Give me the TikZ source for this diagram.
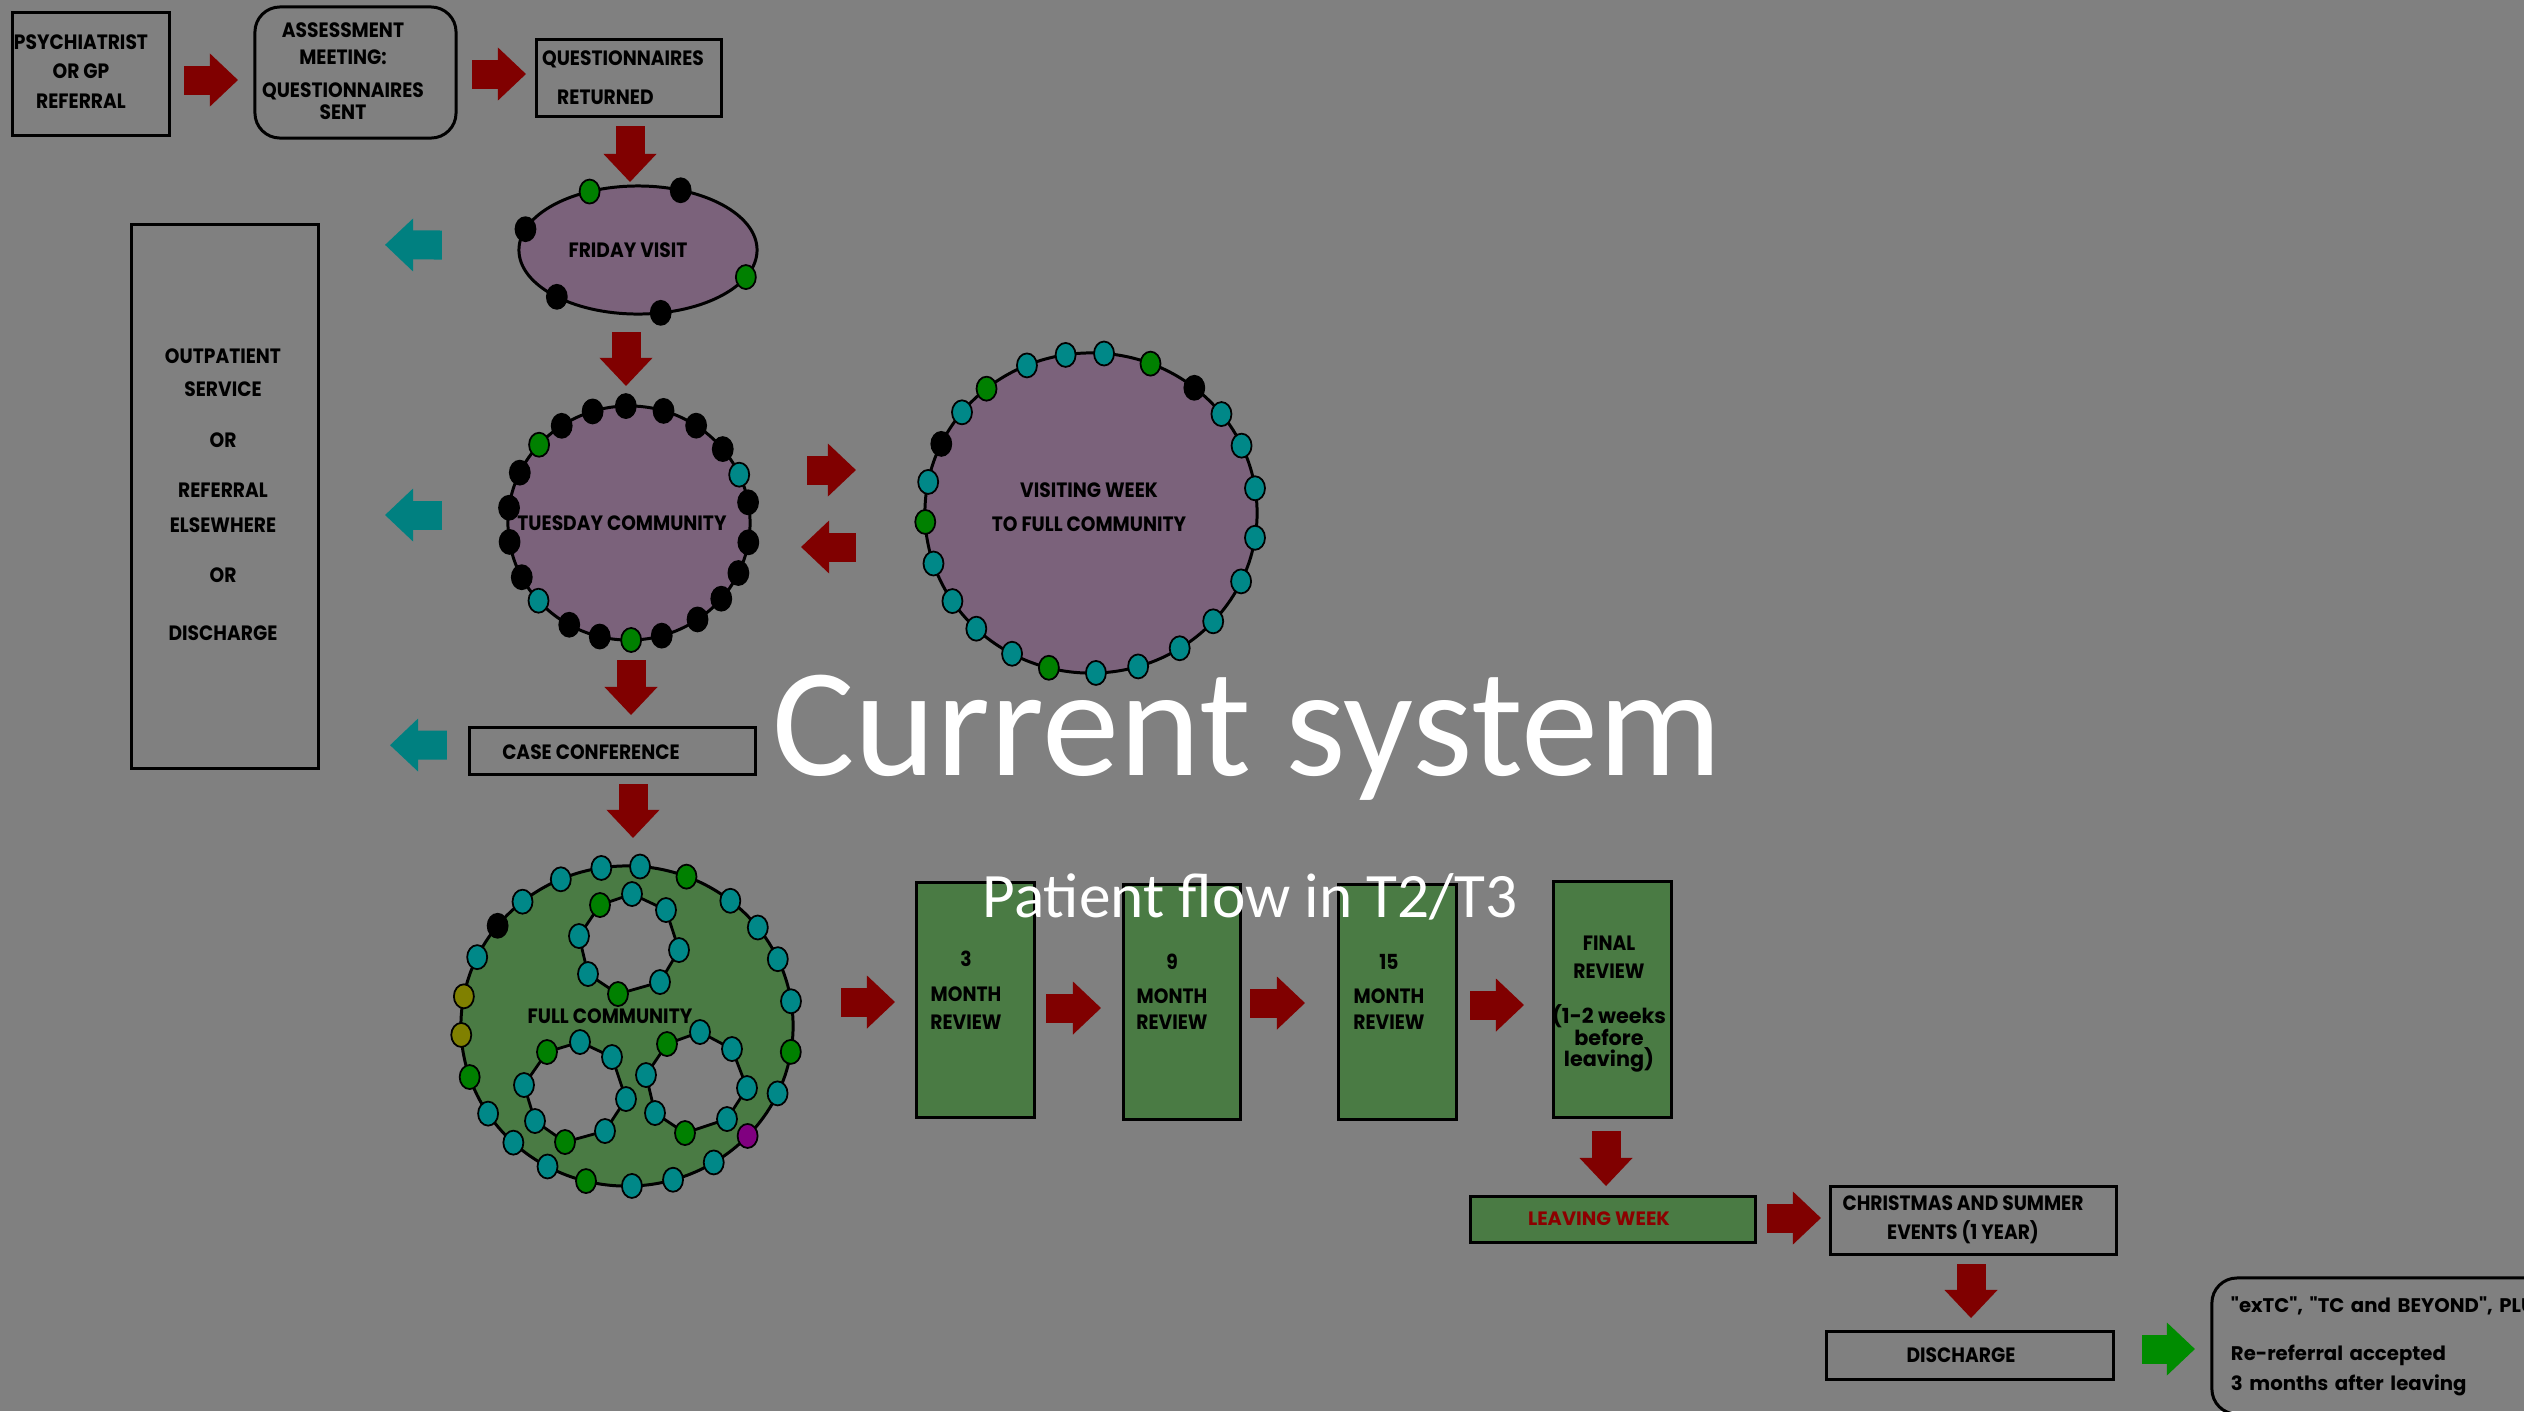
\documentclass[tikz,border=0pt]{standalone}
\usepackage{fontspec}
\usetikzlibrary{shapes.geometric,arrows.meta,calc}
\setmainfont{Carlito}
\newfontfamily\cgn[FakeStretch=0.9]{Poppins}
\newfontfamily\cgw{Poppins}
\definecolor{bg}{RGB}{128,128,128}
\definecolor{purp}{RGB}{123,98,123}
\definecolor{grf}{RGB}{74,123,68}
\definecolor{dg}{RGB}{0,128,0}
\definecolor{tl}{RGB}{0,136,136}
\definecolor{bk}{RGB}{0,0,0}
\definecolor{yl}{RGB}{128,128,0}
\definecolor{mg}{RGB}{128,0,128}
\definecolor{arred}{RGB}{128,0,0}
\definecolor{arteal}{RGB}{0,128,128}
\definecolor{argreen}{RGB}{0,140,0}
\definecolor{lvred}{RGB}{140,0,0}
\newcommand\capfont[1]{\cgn\bfseries\fontsize{5.9}{#1}\selectfont}
\newcommand\rdot[6]{\filldraw[dotst,fill=#6] ({#1+#3*cos(#5)},{#2-#4*sin(#5)}) ellipse [x radius=0.1cm, y radius=0.12cm];}
\tikzset{
 bxbase/.style={draw=black, line width=0.85pt, inner sep=0pt, outer sep=0pt},
 box/.style={bxbase, rectangle},
 rbox/.style={bxbase, rectangle, rounded corners=0.25cm},
 oval/.style={bxbase, ellipse},
 lbl/.style={align=center, text=black, inner sep=0pt},
 blk/.style={line width=0.29cm, -{Triangle[width=0.53cm,length=0.28cm,line width=0pt]}},
 redarr/.style={blk, draw=arred},
 tealarr/.style={blk, draw=arteal},
 greenarr/.style={blk, draw=argreen},
 dotst/.style={draw=black, line width=0.5pt},
 ring/.style={fill=bg, draw=black, line width=0.8pt},
}
\begin{document}
\begin{tikzpicture}[x=0.01cm,y=-0.01cm]
\useasboundingbox (0,0) rectangle (2524,1411);
\clip (0,0) rectangle (2524,1411);
\fill[bg] (0,0) rectangle (2524,1411);

% ---------- boxes and shapes ----------
\node[box, minimum width=1.56cm, minimum height=1.22cm,
  label={[lbl,name=psycht,font=\capfont{8.5},xshift=-0.1cm,yshift=0.025cm]center:{PSYCHIATRIST\\OR GP\\REFERRAL}}] (psych) at (91,74) {};
\node[rbox, minimum width=2.01cm, minimum height=1.31cm,
  label={[lbl,name=assesst,font=\capfont{6.3},xshift=-0.125cm,yshift=0.015cm]center:{ASSESSMENT\\[1.4pt]MEETING:\\[3.1pt]QUESTIONNAIRES\\SENT}}] (assess) at (355.5,72.5) {};
\node[box, minimum width=1.84cm, minimum height=0.76cm,
  label={[lbl,name=questt,font=\capfont{11.1},xshift=-0.06cm,yshift=0.005cm]center:{QUESTIONNAIRES\\RETURNED\hspace*{10pt}}}] (quest) at (629,78) {};
\node[oval, fill=purp, minimum width=2.38cm, minimum height=1.28cm,
  label={[lbl,name=frit,font=\capfont{8},xshift=-0.1cm]center:{FRIDAY VISIT}}] (fri) at (638,250) {};
\node[oval, fill=purp, minimum width=2.42cm, minimum height=2.34cm,
  label={[lbl,name=tuet,font=\capfont{8},xshift=-0.07cm]center:{TUESDAY COMMUNITY}}] (tue) at (629,523) {};
\node[oval, fill=purp, minimum width=3.32cm, minimum height=3.2cm,
  label={[lbl,name=vist,font=\capfont{9.7},xshift=-0.02cm,yshift=0.06cm]center:{VISITING WEEK\\TO FULL COMMUNITY}}] (vis) at (1091,513) {};
\node[box, minimum width=1.86cm, minimum height=5.43cm,
  label={[lbl,name=outpt,font=\capfont{9.4},xshift=-0.02cm,yshift=0.02cm]center:{OUTPATIENT\\SERVICE\\[5.1pt]OR\\[4.8pt]REFERRAL\\[0.6pt]ELSEWHERE\\[4.8pt]OR\\[7.1pt]DISCHARGE}}] (outp) at (225,496.5) {};
\node[box, minimum width=2.85cm, minimum height=0.47cm,
  label={[lbl,name=caset,font=\capfont{8},xshift=-0.215cm,yshift=-0.02cm]center:{CASE CONFERENCE}}] (case) at (612.5,750.5) {};
\node[oval, fill=grf, minimum width=3.32cm, minimum height=3.2cm] (full) at (627,1026) {};
\node[box, fill=grf, minimum width=1.17cm, minimum height=2.34cm,
  label={[lbl,name=m3t,font=\capfont{8},xshift=-0.095cm,yshift=0.1cm]center:{3\\[2pt]MONTH\\REVIEW}}] (m3) at (975.5,1000) {};
\node[box, fill=grf, minimum width=1.16cm, minimum height=2.34cm,
  label={[lbl,name=m9t,font=\capfont{7.4},xshift=-0.1cm,yshift=0.1cm]center:{9\\[2.3pt]MONTH\\REVIEW}}] (m9) at (1182,1002) {};
\node[box, fill=grf, minimum width=1.17cm, minimum height=2.34cm,
  label={[lbl,name=m15t,font=\capfont{7.4},xshift=-0.085cm,yshift=0.1cm]center:{15\\[2.3pt]MONTH\\REVIEW}}] (m15) at (1397.5,1002) {};
\node[box, fill=grf, minimum width=1.17cm, minimum height=2.35cm,
  label={[lbl,name=fint,font=\capfont{6.2},xshift=-0.035cm,yshift=-0.045cm]center:{FINAL\\[1.8pt]REVIEW\\[6.6pt]{\cgw (1-2 weeks}\\{\cgw before}\\{\cgw leaving)}}}] (fin) at (1612.5,999.5) {};
\node[box, fill=grf, minimum width=2.84cm, minimum height=0.46cm,
  label={[lbl,name=leavet,text=lvred,font=\cgw\bfseries\fontsize{5.5}{6}\selectfont,xshift=-0.14cm]center:{LEAVING WEEK}}] (leave) at (1613,1219) {};
\node[box, minimum width=2.85cm, minimum height=0.68cm,
  label={[lbl,name=xmast,font=\capfont{8.3},xshift=-0.105cm]center:{CHRISTMAS AND SUMMER\\EVENTS (1 YEAR)}}] (xmas) at (1973.5,1220) {};
\node[box, minimum width=2.86cm, minimum height=0.48cm,
  label={[lbl,name=disct,font=\capfont{8},xshift=-0.09cm]center:{DISCHARGE}}] (disc) at (1970,1355) {};
\node[rbox, minimum width=4cm, minimum height=1.36cm, text width=3.62cm, inner xsep=0.19cm, align=left,
  font=\cgw\bfseries\fontsize{5.6}{8.5}\selectfont] (extc) at (2412,1346)
  {"exTC", "TC and BEYOND", PLUS\\[5.2pt]Re-referral accepted\\3 months after leaving};

% ---------- dots on the ovals ----------
\foreach \a/\cl in {114/dg,69/bk,161/bk,335/dg,227/bk,281/bk}{\rdot{638}{250}{119}{64}{\a}{\cl}}
\foreach \a/\cl in {123.8/bk,107.5/bk,91.5/bk,73.4/bk,56.3/bk,138/dg,39.2/bk,24.4/tl,154.5/bk,10.2/bk,172.5/bk,-9.5/bk,189.3/bk,-25.3/bk,207.6/bk,-40.3/bk,221.6/tl,-55.5/bk,240.4/bk,-74.3/bk,271/dg,256/bk}{\rdot{629}{523}{121}{117}{\a}{\cl}}
\foreach \a/\cl in {112.7/tl,98.8/tl,85.5/tl,69/dg,51.5/bk,129/dg,141/tl,38.2/tl,154.4/bk,24.9/tl,168.8/tl,8.9/tl,183.2/dg,-8.9/tl,198.4/tl,-25.3/tl,213.4/tl,-42.6/tl,226.3/tl,241.6/tl,-57.7/tl,255.3/dg,271.7/tl,-73.5/tl}{\rdot{1091}{513}{166}{160}{\a}{\cl}}
\foreach \a/\cl in {98.9/tl,85.5/tl,69/dg,113.5/tl,129/tl,51.5/tl,141.2/bk,38/tl,154.5/tl,24.7/tl,169.3/yl,8.9/tl,183.2/yl,-9.3/dg,198.6/dg,-24.9/tl,213.2/tl,-43.4/mg,226.8/tl,-58.5/tl,241.4/tl,255.7/dg,-88.3/tl,-73.9/tl}{\rdot{627}{1026}{166}{160}{\a}{\cl}}

% ---------- inner rings of the full community ----------
\filldraw[ring] (632,894) -- (666,910) -- (679,950) -- (660,982) -- (618,994) -- (588,974) -- (579,936) -- (600,905) -- cycle;
\filldraw[ring] (580,1042) -- (612,1057) -- (626,1099) -- (605,1131) -- (565,1142) -- (535,1121) -- (524,1085) -- (547,1052) -- cycle;
\filldraw[ring] (700,1032) -- (732,1049) -- (747,1088) -- (727,1119) -- (685,1133) -- (655,1113) -- (646,1075) -- (667,1044) -- cycle;
\foreach \px/\py/\cl in {632/894/tl,666/910/tl,679/950/tl,660/982/tl,618/994/dg,588/974/tl,579/936/tl,600/905/dg,580/1042/tl,612/1057/tl,626/1099/tl,605/1131/tl,565/1142/dg,535/1121/tl,524/1085/tl,547/1052/dg,700/1032/tl,732/1049/tl,747/1088/tl,727/1119/tl,685/1133/dg,655/1113/tl,646/1075/tl,667/1044/dg}{\filldraw[dotst,fill=\cl] (\px,\py) ellipse [x radius=0.1cm, y radius=0.12cm];}
\node[lbl, font=\capfont{8}] (fullt) at (610,1016) {FULL COMMUNITY};

% ---------- block arrows ----------
\draw[redarr] ($(psych.east)+(15,6)$) -- ($(assess.west)+(-17,7.5)$);
\draw[redarr] ($(assess.east)+(16,1.5)$) -- ($(quest.west)+(-11,-4)$);
\draw[redarr] ($(quest.south)+(1,10)$) -- ($(fri.north)+(-8,-4)$);
\draw[redarr] ($(fri.south)+(-12,18)$) -- ($(tue.north)+(-3,-20)$);
\draw[redarr] ($(tue.east)+(57,-53)$) -- ($(vis.west)+(-69,-43)$);
\draw[redarr] ($(vis.west)+(-69,34)$) -- ($(tue.east)+(51,24)$);
\draw[tealarr] ($(fri.west)+(-77,-5)$) -- ($(outp.north east)+(67,20)$);
\draw[tealarr] ($(tue.west)+(-66,-8)$) -- ($(outp.east)+(67,18.5)$);
\draw[tealarr] ($(case.west)+(-23,-5.5)$) -- ($(outp.south east)+(72,-23)$);
\draw[redarr] ($(tue.south)+(2,20)$) -- ($(case.north)+(18.5,-12)$);
\draw[redarr] ($(case.south)+(20.5,10)$) -- ($(full.north)+(6,-28)$);
\draw[redarr] ($(full.east)+(48,-24)$) -- ($(m3.west)+(-22,2)$);
\draw[redarr] ($(m3.east)+(12,8)$) -- ($(m9.west)+(-23,6)$);
\draw[redarr] ($(m9.east)+(10,1)$) -- ($(m15.west)+(-34,1)$);
\draw[redarr] ($(m15.east)+(14,3)$) -- ($(fin.west)+(-30,5.5)$);
\draw[redarr] ($(fin.south)+(-6.5,14)$) -- ($(leave.north)+(-7,-10)$);
\draw[redarr] ($(leave.east)+(12,-1)$) -- ($(xmas.west)+(-10,-2)$);
\draw[redarr] ($(xmas.south)+(-2.5,10)$) -- ($(disc.north)+(1,-13)$);
\draw[greenarr] ($(disc.east)+(29,-6)$) -- ($(extc.west)+(-17,3)$);

% ---------- title ----------
\node[text=white, font=\fontsize{44}{50}\selectfont, anchor=base] (title) at (1247,775) {Current system};
\node[text=white, font=\fontsize{18}{22}\selectfont, anchor=base] (subtitle) at (1250,917) {Patient flow in T2/T3};
\end{tikzpicture}
\end{document}
